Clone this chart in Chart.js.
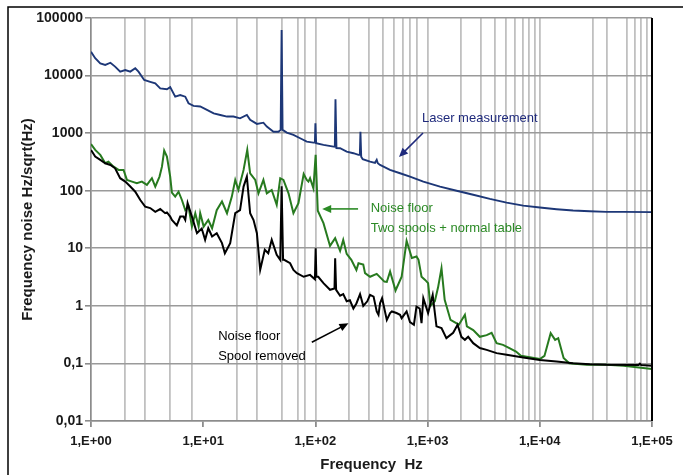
<!DOCTYPE html>
<html>
<head>
<meta charset="utf-8">
<script src="https://cdn.jsdelivr.net/npm/chart.js@4/dist/chart.umd.min.js"></script>
<style>
  html, body { margin: 0; padding: 0; background: #fff; }
  #noiseChart { display: block; }
</style>
</head>
<body>
<canvas id="noiseChart" width="683" height="475" style="width:683px;height:475px"></canvas>
<script>
// Laser measurement (blue)
const laserFreq = [1.0, 1.09, 1.21, 1.34, 1.49, 1.64, 1.82, 2.02, 2.24, 2.48, 2.65, 2.98, 3.37, 3.74, 4.14, 4.75, 5.08, 5.63, 6.24, 6.92,
  7.4, 8.2, 9.4, 10.8, 12.4, 14.2, 16.3, 18.6, 21.3, 24.5, 26.2, 30.1, 34.4, 36.9, 42.3, 46.8, 49, 50, 51, 55.6,
  63.7, 73.1, 83.8, 96, 99, 100, 101.5, 118, 145, 149, 151, 154, 166, 190, 218, 242, 249, 252, 256, 264,
  307, 340, 352, 360, 377, 462, 568, 697, 916, 1290, 1816, 2550, 3590, 5060, 7110, 10000, 14100, 19800, 27900, 39300,
  55300, 100000];
const laserNoise = [26000, 20000, 16300, 15300, 16700, 14300, 11700, 12500, 11700, 13400, 11700, 8400, 7800, 7300, 6000, 5800, 6300, 4300, 4600, 4300,
  3300, 2970, 2900, 2530, 2200, 2070, 1940, 1940, 1810, 2070, 1700, 1445, 1520, 1300, 1060, 1060, 1140, 62000, 1140, 1020,
  930, 815, 713, 684, 690, 1480, 668, 624, 583, 580, 3870, 550, 547, 478, 448, 419, 420, 1060, 390, 352,
  320, 305, 343, 300, 280, 230, 201, 176, 144, 118, 100, 85, 72, 62, 55, 51, 47.7, 45.2, 44, 42.9,
  42.9, 42.4];

// Noise floor, two spools + normal table (green)
const spoolsFreq = [1.0, 1.09, 1.21, 1.34, 1.43, 1.59, 1.76, 1.95, 2.09, 2.32, 2.56, 2.84, 3.15, 3.49, 3.74, 4.08, 4.29, 4.49, 4.75, 5.08,
  5.26, 5.63, 6.03, 6.46, 6.92, 7.4, 7.93, 8.5, 9.1, 9.4, 10.1, 11.1, 12, 13.2, 14.7, 16.3, 18, 19.3, 20.6, 22.9,
  24.7, 26.2, 29.1, 31.1, 34.4, 36.9, 40.8, 45.2, 48.6, 51.9, 57.6, 63.7, 70.6, 78.6, 83.8, 86.7, 89.6, 96, 100.5, 105,
  118, 135, 150, 166, 177, 190, 209, 232, 242, 267, 277, 307, 352, 412, 433, 463, 518, 587, 650, 724,
  796, 830, 883, 950, 1010, 1060, 1160, 1240, 1330, 1420, 1600, 1900, 2150, 2240, 2550, 2920, 3360, 3720, 4120, 4700,
  5360, 6140, 6790, 8130, 10000, 11000, 12500, 13700, 14600, 16300, 18300, 26100, 39600, 55800, 100000];
const spoolsNoise = [649, 511, 419, 300, 320, 262, 230, 230, 154, 144, 135, 144, 126, 165, 118, 176, 262, 497, 391, 176,
  93, 79, 96, 69, 46, 53, 24, 40.7, 24, 40.7, 23.8, 31, 22.3, 46, 65, 40.7, 79, 154, 103, 230,
  511, 201, 154, 90, 154, 90, 103, 57, 165, 154, 90, 40.7, 61, 195, 154, 144, 165, 110, 419, 45,
  27.3, 11, 15, 9, 14, 8, 6.3, 4.2, 5.5, 5.2, 3.7, 3.2, 3.6, 2.64, 2.6, 3.95, 1.85, 3.2, 13.5, 6.8,
  7.2, 6.3, 3.2, 2.82, 2.48, 1.0, 1.2, 2.1, 4.5, 1.27, 0.57, 0.47, 0.70, 0.44, 0.38, 0.29, 0.31, 0.34, 0.225, 0.21,
  0.185, 0.161, 0.136, 0.128, 0.119, 0.135, 0.336, 0.257, 0.275, 0.124, 0.101, 0.095, 0.095, 0.091, 0.080];

// Noise floor, spool removed (black)
const removedFreq = [1.0, 1.09, 1.21, 1.34, 1.49, 1.64, 1.82, 2.02, 2.24, 2.48, 2.75, 3.04, 3.37, 3.74, 4.14, 4.58, 4.75, 5.08, 5.26, 5.82,
  6.24, 6.68, 6.92, 7.26, 7.93, 8.8, 9.7, 10.4, 11.1, 12, 13.2, 14.7, 15.6, 17.4, 19.3, 21.3, 22.9, 24.5, 26.2, 28.1,
  30.1, 32.2, 35.4, 38, 40.8, 45.2, 48.6, 50, 51.5, 52.7, 59.5, 63.7, 68.4, 78.6, 89.6, 99, 100.5, 102, 106, 118,
  135, 148, 150, 153, 166, 177, 190, 203, 218, 232, 250, 267, 290, 307, 330, 352, 365, 377, 393, 433,
  463, 480, 528, 568, 587, 650, 697, 755, 796, 850, 883, 916, 1010, 1110, 1200, 1330, 1470, 1690, 1850, 2000,
  2150, 2300, 2550, 2920, 3360, 4120, 5060, 7110, 10000, 14100, 19800, 27900, 39600, 76000, 78000, 80000, 100000];
const removedNoise = [511, 391, 343, 300, 280, 245, 165, 144, 118, 96, 69, 53, 50, 43, 48, 40.7, 42, 35.5, 31, 25,
  35.5, 35.5, 31, 61, 35.5, 18.3, 22, 14, 22.3, 16, 18.3, 12.3, 8.2, 12.3, 40.7, 46, 118, 176, 40.7, 31,
  18.3, 4.2, 9.4, 8.2, 14, 7.7, 6.3, 120, 6.3, 6.3, 5.5, 4.2, 3.7, 3.2, 3.45, 2.9, 10, 3.2, 3.2, 2.48,
  1.9, 2.0, 6.7, 1.9, 1.5, 1.6, 1.2, 1.25, 0.9, 1.1, 1.6, 1.0, 1.2, 1.55, 1.45, 0.8, 0.7, 1.11, 1.36, 0.57,
  0.75, 0.8, 0.75, 0.70, 0.61, 0.8, 0.52, 0.47, 0.97, 0.9, 0.5, 1.36, 0.75, 1.55, 0.44, 0.41, 0.275, 0.34, 0.47, 0.29,
  0.257, 0.29, 0.225, 0.185, 0.172, 0.151, 0.141, 0.127, 0.115, 0.108, 0.101, 0.097, 0.095, 0.094, 0.099, 0.094, 0.091];

// axis ticks / gridlines
const xGridValues = [1, 2, 3, 5, 8, 10, 20, 30, 50, 70, 80, 100, 200, 300, 400, 500, 600, 700, 800, 1000,
  2000, 3000, 4000, 5000, 6000, 7000, 8000, 9000, 10000, 30000, 40000, 60000, 70000, 80000, 90000, 100000];
const yTickValues = [0.01, 0.1, 1, 10, 100, 1000, 10000, 100000];
const yTickLabels = ['0,01', '0,1', '1', '10', '100', '1000', '10000', '100000'];

// text notes on the plot, anchored in data coordinates
const notes = [
  { lines: ['Laser measurement'], color: '#1f2a7c', at: [891, 1836], from: [910, 1007], to: [556, 386] },
  { lines: ['Noise floor', 'Two spools + normal table'], color: '#2b8a25', at: [311, 48.3], from: [240, 48.3], to: [115, 48.3] },
  { lines: ['Noise floor', 'Spool removed'], color: '#000000', at: [13.6, 0.29], from: [92.9, 0.234], to: [197, 0.497] }
];

function toPoints(xs, ys) {
  return xs.map((x, i) => ({ x: x, y: ys[i] }));
}

function isDecade(v) {
  const e = Math.log10(v);
  return Math.abs(e - Math.round(e)) < 1e-9;
}

function drawArrow(ctx, x1, y1, x2, y2, color) {
  const ang = Math.atan2(y2 - y1, x2 - x1);
  const len = 9, half = 4;
  ctx.strokeStyle = color;
  ctx.fillStyle = color;
  ctx.lineWidth = 1.6;
  ctx.beginPath();
  ctx.moveTo(x1, y1);
  ctx.lineTo(x2 - Math.cos(ang) * len * 0.8, y2 - Math.sin(ang) * len * 0.8);
  ctx.stroke();
  ctx.beginPath();
  ctx.moveTo(x2, y2);
  ctx.lineTo(x2 - Math.cos(ang) * len + Math.sin(ang) * half, y2 - Math.sin(ang) * len - Math.cos(ang) * half);
  ctx.lineTo(x2 - Math.cos(ang) * len - Math.sin(ang) * half, y2 - Math.sin(ang) * len + Math.cos(ang) * half);
  ctx.closePath();
  ctx.fill();
}

const decorPlugin = {
  id: 'decor',
  afterDraw(chart) {
    const ctx = chart.ctx;
    const area = chart.chartArea;
    const xs = chart.scales.x, ys = chart.scales.y;
    ctx.save();
    // right edge of plot area
    ctx.strokeStyle = '#000';
    ctx.lineWidth = 2;
    ctx.beginPath();
    ctx.moveTo(area.right, area.top);
    ctx.lineTo(area.right, area.bottom);
    ctx.stroke();
    // outer frame
    ctx.lineWidth = 1.5;
    ctx.beginPath();
    ctx.moveTo(8, chart.height);
    ctx.lineTo(8, 7);
    ctx.lineTo(chart.width, 7);
    ctx.stroke();
    // notes
    ctx.font = '13px "Liberation Sans", Arial, sans-serif';
    ctx.textBaseline = 'middle';
    ctx.textAlign = 'left';
    notes.forEach(n => {
      const tx = xs.getPixelForValue(n.at[0]);
      const ty = ys.getPixelForValue(n.at[1]);
      ctx.fillStyle = n.color;
      n.lines.forEach((t, i) => ctx.fillText(t, tx, ty + i * 19.5));
      drawArrow(ctx, xs.getPixelForValue(n.from[0]), ys.getPixelForValue(n.from[1]),
        xs.getPixelForValue(n.to[0]), ys.getPixelForValue(n.to[1]), n.color);
    });
    ctx.restore();
  }
};

const ctx = document.getElementById('noiseChart').getContext('2d');
new Chart(ctx, {
  type: 'line',
  data: {
    datasets: [
      {
        label: 'Noise floor - Spool removed',
        data: toPoints(removedFreq, removedNoise),
        borderColor: '#000000',
        borderWidth: 2
      },
      {
        label: 'Noise floor - Two spools + normal table',
        data: toPoints(spoolsFreq, spoolsNoise),
        borderColor: '#277a1f',
        borderWidth: 2
      },
      {
        label: 'Laser measurement',
        data: toPoints(laserFreq, laserNoise),
        borderColor: '#1d3777',
        borderWidth: 1.9
      }
    ]
  },
  options: {
    responsive: false,
    animation: false,
    devicePixelRatio: 1,
    layout: { padding: { top: 18, right: 31, left: 0, bottom: 0 } },
    elements: { point: { radius: 0 }, line: { tension: 0 } },
    plugins: {
      legend: { display: false },
      tooltip: { enabled: false }
    },
    scales: {
      x: {
        type: 'logarithmic',
        min: 1,
        max: 100000,
        afterBuildTicks: scale => { scale.ticks = xGridValues.map(v => ({ value: v })); },
        afterFit: scale => { scale.height = 54; scale.paddingLeft = 0; scale.paddingRight = 0; },
        border: { display: true, color: '#8c8c8c', width: 1.5 },
        grid: {
          lineWidth: 1.8,
          color: c => (c.tick && c.tick.value === 10) ? 'rgba(0,0,0,0)' : '#c0c0c0',
          tickColor: c => (c.tick && isDecade(c.tick.value)) ? '#8c8c8c' : 'rgba(0,0,0,0)',
          tickLength: 6
        },
        ticks: {
          autoSkip: false,
          maxRotation: 0,
          padding: 7,
          color: '#1a1a1a',
          font: { family: '"Liberation Sans", Arial, sans-serif', size: 13, weight: 'bold' },
          callback: v => isDecade(v) ? '1,E+' + String(Math.round(Math.log10(v))).padStart(2, '0') : ''
        },
        title: {
          display: true,
          text: 'Frequency  Hz',
          color: '#1a1a1a',
          padding: { top: 0, bottom: 1 },
          font: { family: '"Liberation Sans", Arial, sans-serif', size: 15, weight: 'bold' }
        }
      },
      y: {
        type: 'logarithmic',
        min: 0.01,
        max: 100000,
        afterBuildTicks: scale => { scale.ticks = yTickValues.map(v => ({ value: v })); },
        afterFit: scale => { scale.width = 91; scale.paddingTop = 0; scale.paddingBottom = 0; },
        border: { display: true, color: '#8c8c8c', width: 1.5 },
        grid: { lineWidth: 1.6, color: '#9a9a9a', tickColor: '#8c8c8c', tickLength: 6 },
        ticks: {
          autoSkip: false,
          padding: 2,
          color: '#1a1a1a',
          font: { family: '"Liberation Sans", Arial, sans-serif', size: 14, weight: 'bold' },
          callback: (v, i) => yTickLabels[i]
        },
        title: {
          display: true,
          text: 'Frequency noise Hz/sqrt(Hz)',
          color: '#1a1a1a',
          padding: { top: 19, bottom: 0 },
          font: { family: '"Liberation Sans", Arial, sans-serif', size: 15, weight: 'bold' }
        }
      }
    }
  },
  plugins: [decorPlugin]
});
</script>
</body>
</html>
